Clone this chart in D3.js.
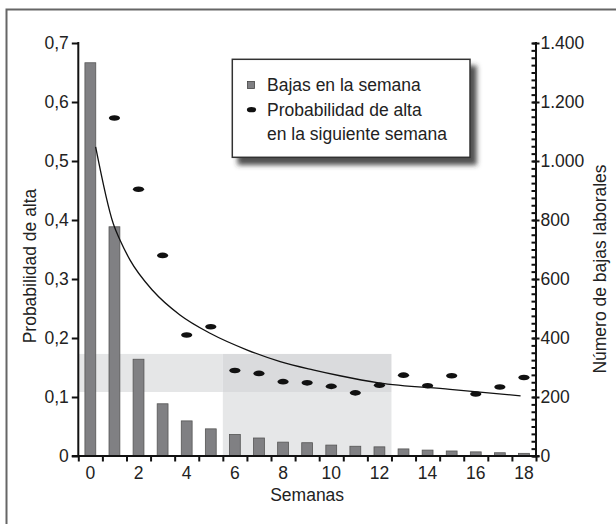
<!DOCTYPE html>
<html>
<head>
<meta charset="utf-8">
<script src="https://cdn.jsdelivr.net/npm/d3@7"></script>
<style>
  body { margin: 0; background: #fff; }
  text { font-family: 'Liberation Sans', Arial, sans-serif; fill: #222; }
</style>
</head>
<body>
<div id="chart"></div>
<script>
const weeks = d3.range(0, 19)
const bajas = [1333, 777, 328, 177, 119, 92, 73, 61, 47, 45, 37, 33, 31, 24, 20, 17, 14, 11, 9]
const probWeeks = [1, 2, 3, 4, 5, 6, 7, 8, 9, 10, 11, 12, 13, 14, 15, 16, 17, 18]
const probAlta = [0.573, 0.452, 0.34, 0.205, 0.219, 0.145, 0.14, 0.126, 0.124, 0.118, 0.107,
  0.12, 0.137, 0.119, 0.136, 0.105, 0.117, 0.133]
// trend line
const curveWeeks = [0.22, 0.95, 1.23, 1.65, 2.6, 3.72, 4.97, 6.49, 7.88, 9.24, 10.36, 11.97, 14.93, 17.86]
const curveProb = [0.524, 0.394, 0.366, 0.332, 0.28, 0.239, 0.208, 0.18, 0.16, 0.146, 0.136, 0.124, 0.113, 0.102]
// shaded zones
const bandProb = [0.1085, 0.173]
const bandWeeks = [6, 12]
const leftTicks = [0, 0.1, 0.2, 0.3, 0.4, 0.5, 0.6, 0.7]
const rightTicks = [0, 200, 400, 600, 800, 1000, 1200, 1400]
const xLabels = [0, 2, 4, 6, 8, 10, 12, 14, 16, 18]

const W = 616
const H = 524
const plotLeft = 78.3
const plotRight = 536
const plotTop = 43
const plotBottom = 456

const svg = d3
  .select('#chart')
  .append('svg')
  .attr('width', W)
  .attr('height', H)

const defs = svg.append('defs')
defs
  .append('filter')
  .attr('id', 'shadow')
  .attr('x', '-10%')
  .attr('y', '-10%')
  .attr('width', '130%')
  .attr('height', '140%')
  .append('feDropShadow')
  .attr('dx', 6)
  .attr('dy', 7)
  .attr('stdDeviation', 2.5)
  .attr('flood-color', '#333')
  .attr('flood-opacity', 0.85)

// outer frame
svg
  .append('path')
  .attr('d', `M6.5,${H} V9.5 H${W}`)
  .attr('fill', 'none')
  .attr('stroke', '#666')
  .attr('stroke-width', 2)

const xBand = d3.scaleBand().domain(weeks).range([plotLeft, plotRight])
const xEdge = d3.scaleLinear().domain([0, weeks.length]).range([plotLeft, plotRight])
const xCenter = d3
  .scaleLinear()
  .domain([0, weeks.length - 1])
  .range([xBand(0) + xBand.bandwidth() / 2, xBand(18) + xBand.bandwidth() / 2])
const yLeft = d3.scaleLinear().domain([0, 0.7]).range([plotBottom, plotTop])
const yRight = d3.scaleLinear().domain([0, 1400]).range([plotBottom, plotTop])

// shading
const bx0 = xEdge(0)
const bx1 = xEdge(bandWeeks[0])
const bx2 = xEdge(bandWeeks[1] + 1)
svg
  .append('rect')
  .attr('x', bx0)
  .attr('y', yLeft(bandProb[1]))
  .attr('width', bx1 - bx0)
  .attr('height', yLeft(bandProb[0]) - yLeft(bandProb[1]))
  .attr('fill', '#e5e6e7')
svg
  .append('rect')
  .attr('x', bx1)
  .attr('y', yLeft(bandProb[0]))
  .attr('width', bx2 - bx1)
  .attr('height', plotBottom - yLeft(bandProb[0]))
  .attr('fill', '#e6e7e8')
svg
  .append('rect')
  .attr('x', bx1)
  .attr('y', yLeft(bandProb[1]))
  .attr('width', bx2 - bx1)
  .attr('height', yLeft(bandProb[0]) - yLeft(bandProb[1]))
  .attr('fill', '#dadbdd')

// bars
const bw = xBand.bandwidth() * 0.45
svg
  .selectAll('.bar')
  .data(weeks)
  .enter()
  .append('rect')
  .attr('class', 'bar')
  .attr('x', d => xBand(d) + xBand.bandwidth() / 2 - bw / 2)
  .attr('y', d => yRight(bajas[d]))
  .attr('width', bw)
  .attr('height', d => plotBottom - yRight(bajas[d]))
  .attr('fill', '#808083')
  .attr('stroke', '#555')
  .attr('stroke-width', 0.8)

// trend curve
const line = d3
  .line()
  .x((d, i) => xCenter(curveWeeks[i]))
  .y((d, i) => yLeft(curveProb[i]))
  .curve(d3.curveMonotoneX)
svg
  .append('path')
  .datum(curveWeeks)
  .attr('d', line)
  .attr('fill', 'none')
  .attr('stroke', '#111')
  .attr('stroke-width', 1.3)

// dots
svg
  .selectAll('.dot')
  .data(probWeeks)
  .enter()
  .append('ellipse')
  .attr('class', 'dot')
  .attr('cx', d => xCenter(d))
  .attr('cy', (d, i) => yLeft(probAlta[i]))
  .attr('rx', 5.6)
  .attr('ry', 2.8)
  .attr('fill', '#111')

// axes
const esFormat = d3.formatLocale({ decimal: ',', thousands: '.', grouping: [3], currency: ['', ''] })
const fmtLeft = d => (d === 0 ? '0' : esFormat.format('.1f')(d))

svg
  .append('g')
  .attr('class', 'axis')
  .attr('transform', `translate(${plotLeft},0)`)
  .call(d3.axisLeft(yLeft).tickValues(leftTicks).tickFormat(fmtLeft).tickSize(6.5).tickPadding(3))

svg
  .append('g')
  .attr('class', 'axis')
  .attr('transform', `translate(${plotRight},0)`)
  .call(d3.axisLeft(yRight).tickValues(d3.range(0, 1401, 25)).tickFormat('').tickSize(4.5))
svg
  .append('g')
  .attr('class', 'axis')
  .attr('transform', `translate(${plotRight - 3.5},0)`)
  .call(d3.axisRight(yRight).tickValues(rightTicks).tickFormat(esFormat.format(',')).tickSize(7).tickPadding(1))

svg
  .append('g')
  .attr('class', 'axis')
  .attr('transform', `translate(0,${plotBottom})`)
  .call(d3.axisBottom(xEdge).tickValues(d3.range(0, weeks.length + 1)).tickFormat('').tickSize(5.5))
svg
  .append('g')
  .attr('class', 'axis xlab')
  .attr('transform', `translate(0,${plotBottom})`)
  .call(d3.axisBottom(xBand).tickValues(xLabels).tickSize(0).tickPadding(11))

svg.selectAll('.axis path.domain').remove()
svg.selectAll('.axis line').attr('stroke', '#111').attr('stroke-width', 2)
svg.selectAll('.xlab line').remove()
svg.selectAll('.axis text').attr('font-size', 17.5).attr('font-family', "'Liberation Sans', Arial, sans-serif").attr('fill', '#222')

// axis lines
svg.append('line').attr('x1', plotLeft).attr('x2', plotLeft).attr('y1', plotTop - 1).attr('y2', plotBottom + 1).attr('stroke', '#111').attr('stroke-width', 2)
svg.append('line').attr('x1', plotRight).attr('x2', plotRight).attr('y1', plotTop - 1).attr('y2', plotBottom + 1).attr('stroke', '#111').attr('stroke-width', 2)
svg.append('line').attr('x1', plotLeft - 6.5).attr('x2', plotRight + 3.5).attr('y1', plotBottom).attr('y2', plotBottom).attr('stroke', '#111').attr('stroke-width', 2)

// axis titles
svg
  .append('text')
  .text('Semanas')
  .attr('x', (plotLeft + plotRight) / 2)
  .attr('y', 501)
  .attr('text-anchor', 'middle')
  .attr('font-size', 17.5)
svg
  .append('text')
  .text('Probabilidad de alta')
  .attr('transform', 'translate(36,266) rotate(-90)')
  .attr('text-anchor', 'middle')
  .attr('font-size', 17.5)
svg
  .append('text')
  .text('Número de bajas laborales')
  .attr('transform', 'translate(606,269) rotate(-90)')
  .attr('text-anchor', 'middle')
  .attr('font-size', 17.5)

// legend
const lg = svg.append('g')
lg.append('rect')
  .attr('x', 232.3)
  .attr('y', 59.3)
  .attr('width', 237.7)
  .attr('height', 98)
  .attr('fill', '#fff')
  .attr('stroke', '#333')
  .attr('stroke-width', 1.5)
  .attr('filter', 'url(#shadow)')
lg.append('rect')
  .attr('x', 247.5)
  .attr('y', 81.5)
  .attr('width', 7)
  .attr('height', 7)
  .attr('fill', '#808083')
  .attr('stroke', '#444')
  .attr('stroke-width', 0.8)
lg.append('ellipse')
  .attr('cx', 251.5)
  .attr('cy', 109.7)
  .attr('rx', 4.6)
  .attr('ry', 2.6)
  .attr('fill', '#111')
const legendLines = [
  ['Bajas en la semana', 91],
  ['Probabilidad de alta', 116],
  ['en la siguiente semana', 139.5]
]
lg.selectAll('.lt')
  .data(legendLines)
  .enter()
  .append('text')
  .attr('class', 'lt')
  .attr('x', 267)
  .attr('y', d => d[1])
  .attr('font-size', 17.5)
  .text(d => d[0])
</script>
</body>
</html>
